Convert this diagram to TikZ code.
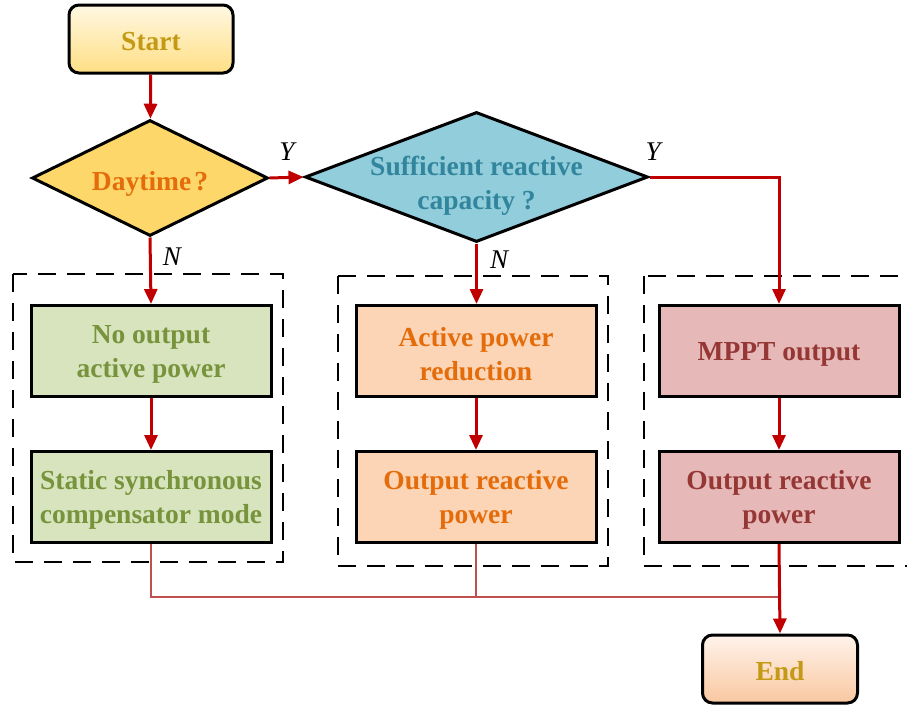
\documentclass[tikz,border=0pt]{standalone}
\usepackage{fontspec}
\setmainfont{Liberation Serif}
\usetikzlibrary{arrows.meta,shapes.geometric,calc}

\definecolor{arrowred}{HTML}{C00000}
\definecolor{joinred}{HTML}{C0504D}
\definecolor{goldtext}{HTML}{C49A14}
\definecolor{startTop}{HTML}{FFF8E2}
\definecolor{startBot}{HTML}{FFDF85}
\definecolor{endTop}{HTML}{FFF3EB}
\definecolor{endBot}{HTML}{F9C7A0}
\definecolor{dayFill}{HTML}{FDD76A}
\definecolor{orangeText}{HTML}{E46C0A}
\definecolor{suffFill}{HTML}{92CDDC}
\definecolor{suffText}{HTML}{31859C}
\definecolor{greenFill}{HTML}{D7E4BD}
\definecolor{greenText}{HTML}{77933C}
\definecolor{peachFill}{HTML}{FBD5B5}
\definecolor{roseFill}{HTML}{E6B9B8}
\definecolor{roseText}{HTML}{953735}

\tikzset{
  txt/.style={font=\fontsize{27.5}{34}\selectfont\bfseries, align=center},
  lbl/.style={font=\fontsize{27}{34}\selectfont\itshape, inner sep=0},
  term/.style={draw=black, line width=3pt, rounded corners=10pt,
    minimum width=164, minimum height=68, inner sep=0},
  proc/.style={draw=black, line width=3pt, minimum width=240,
    minimum height=91, inner sep=0},
  inside/.style={txt, inner sep=0},
  decision/.style={diamond, draw=black, line width=3pt, inner sep=0},
  flow/.style={-{Triangle[length=15pt,width=13pt]}, line width=3pt, draw=arrowred},
  joinline/.style={line width=2.2pt, draw=joinred},
  group/.style={draw=black, line width=2.5pt, dash pattern=on 18pt off 11pt}
}

\begin{document}
\begin{tikzpicture}[x=1pt,y=-1pt]
\useasboundingbox (0,0) rectangle (907,704);
\clip (0,0) rectangle (907,704);

% dashed groups around the three branches
\draw[group] (13,274) rectangle (283,562);
\draw[group] (338,276) rectangle (608,566);
\draw[group] (644,276) rectangle (916,566);

% terminals
\node[term, top color=startTop, bottom color=startBot] (start) at (151,39) {};
\node[inside, text=goldtext] (starttxt) at ($(start)+(0,3)$) {Start};
\node[term, top color=endTop, bottom color=endBot, minimum width=155] (end) at (780,669) {};
\node[inside, text=goldtext] (endtxt) at ($(end)+(0,2)$) {End};

% decisions
\node[decision, fill=dayFill, minimum width=236, minimum height=116] (day) at (150,178) {};
\node[inside, text=orangeText] (daytxt) at ($(day)+(0,6)$) {Daytime\kern3pt?};
\node[decision, fill=suffFill, minimum width=343, minimum height=130] (suff) at (476.5,177) {};
\node[inside, text=suffText] (sufftxt) at ($(suff)+(0,9)$) {Sufficient reactive\\capacity ?};

% process boxes
\node[proc, fill=greenFill] (noout) at (151,351) {};
\node[proc, fill=greenFill] (ssc) at (151,497) {};
\node[proc, fill=peachFill] (apr) at (476,351) {};
\node[proc, fill=peachFill] (orp1) at (476,497) {};
\node[proc, fill=roseFill] (mppt) at (779,351) {};
\node[proc, fill=roseFill] (orp2) at (779,497) {};

% their texts, set slightly below the box centres
\node[inside, text=greenText] (nooutT) at ($(noout)+(0,3)$) {No output\\active power};
\node[inside, text=greenText] (sscT) at ($(ssc)+(0,3)$) {Static synchronous\\compensator mode};
\node[inside, text=orangeText] (aprT) at ($(apr)+(0,3)$) {Active power\\reduction};
\node[inside, text=orangeText] (orp1T) at ($(orp1)+(0,3)$) {Output reactive\\power};
\node[inside, text=roseText] (mpptT) at ($(mppt)+(0,3)$) {MPPT output};
\node[inside, text=roseText] (orp2T) at ($(orp2)+(0,3)$) {Output reactive\\power};

% main flow
\draw[flow] (start) -- (day);
\draw[flow] (day.east) -- (suff.west);
\draw[flow] (suff.east) -| (mppt.north);
\draw[flow] (day.south) -- (noout.north);
\draw[flow] (suff.south) -- (suff.south |- apr.north);
\draw[flow] (noout) -- (ssc);
\draw[flow] (apr) -- (orp1);
\draw[flow] (mppt) -- (orp2);

% merging the branches
\coordinate (merge) at (779,597);
\draw[joinline] (ssc.south) |- (merge);
\draw[joinline] (orp1.south) -- (orp1.south |- merge);
\draw[flow] (orp2.south) -- (end.north);

% branch labels
\node[lbl] (y1) at (287,152) {Y};
\node[lbl] (y2) at (653,152) {Y};
\node[lbl] (n1) at (172,257) {N};
\node[lbl] (n2) at (499,260) {N};
\end{tikzpicture}
\end{document}
